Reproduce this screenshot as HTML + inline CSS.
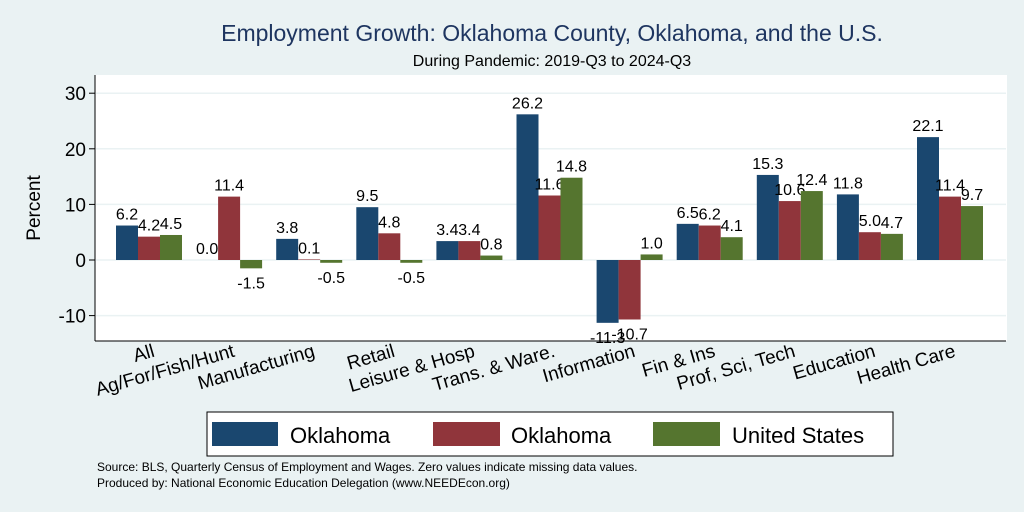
<!DOCTYPE html>
<html><head><meta charset="utf-8"><style>
html,body{margin:0;padding:0;background:#eaf2f3;}
svg{display:block;font-family:"Liberation Sans",Arial,sans-serif;}
</style></head><body>
<svg id="s" width="1024" height="512" xmlns="http://www.w3.org/2000/svg">
<rect width="1024" height="512" fill="#eaf2f3"/>
<rect x="95" y="75" width="912" height="266" fill="#ffffff"/>
<text x="552" y="41" font-size="23" fill="#1e3560" text-anchor="middle">Employment Growth: Oklahoma County, Oklahoma, and the U.S.</text>
<text x="552" y="66" font-size="16" fill="#000" text-anchor="middle">During Pandemic: 2019-Q3 to 2024-Q3</text>
<text transform="translate(40,208) rotate(-90)" font-size="19" text-anchor="middle">Percent</text>
<g id="g"></g>
<rect x="207" y="412" width="686" height="44" fill="#fff" stroke="#000" stroke-width="1"/>
<rect x="212" y="422" width="66" height="24" fill="#1a476f"/>
<text x="290" y="443" font-size="22">Oklahoma</text>
<rect x="433" y="422" width="67" height="24" fill="#90353b"/>
<text x="511" y="443" font-size="22">Oklahoma</text>
<rect x="653" y="422" width="67" height="24" fill="#55752f"/>
<text x="732" y="443" font-size="22">United States</text>
<text x="97" y="471" font-size="12">Source: BLS, Quarterly Census of Employment and Wages. Zero values indicate missing data values.</text>
<text x="97" y="487" font-size="12">Produced by: National Economic Education Delegation (www.NEEDEcon.org)</text>
</svg>
<script>
var g=document.getElementById('g'),h='';
function Y(v){return 260-v*5.56;}
[30,20,10,0,-10].forEach(function(v){var y=Y(v);
h+='<line x1="96" x2="1006" y1="'+y+'" y2="'+y+'" stroke="#eaf2f3" stroke-width="1.5"/>';
h+='<line x1="89" x2="95" y1="'+y+'" y2="'+y+'" stroke="#000"/>';
h+='<text x="86" y="'+(y+7)+'" font-size="19" text-anchor="end">'+v+'</text>';});
h+='<line x1="95" x2="95" y1="75" y2="341" stroke="#000"/><line x1="95" x2="1006" y1="341" y2="341" stroke="#000"/>';
var cats=["All","Ag/For/Fish/Hunt","Manufacturing","Retail","Leisure & Hosp","Trans. & Ware.","Information","Fin & Ins","Prof, Sci, Tech","Education","Health Care"];
var d=[[6.2,0,3.8,9.5,3.4,26.2,-11.3,6.5,15.3,11.8,22.1],[4.2,11.4,0.1,4.8,3.4,11.6,-10.7,6.2,10.6,5.0,11.4],[4.5,-1.5,-0.5,-0.5,0.8,14.8,1.0,4.1,12.4,4.7,9.7]];
var col=["#1a476f","#90353b","#55752f"];
for(var i=0;i<11;i++){var c=149+i*80.1;
 for(var k=0;k<3;k++){var v=d[k][i],x=c-33+k*22,y0=Y(0),y1=Y(v);
  if(v!=0)h+='<rect x="'+x+'" y="'+Math.min(y0,y1)+'" width="22" height="'+Math.abs(y1-y0)+'" fill="'+col[k]+'"/>';
  var ly=v>=0?y1-6:y1+20;
  h+='<text x="'+(x+11)+'" y="'+ly+'" font-size="16" text-anchor="middle">'+v.toFixed(1)+'</text>';}
 h+='<text transform="translate('+(c+3)+',344) rotate(-16)" font-size="19" text-anchor="end" dominant-baseline="hanging">'+cats[i].replace('&','&amp;')+'</text>';}
g.innerHTML=h;
</script>
</body></html>
